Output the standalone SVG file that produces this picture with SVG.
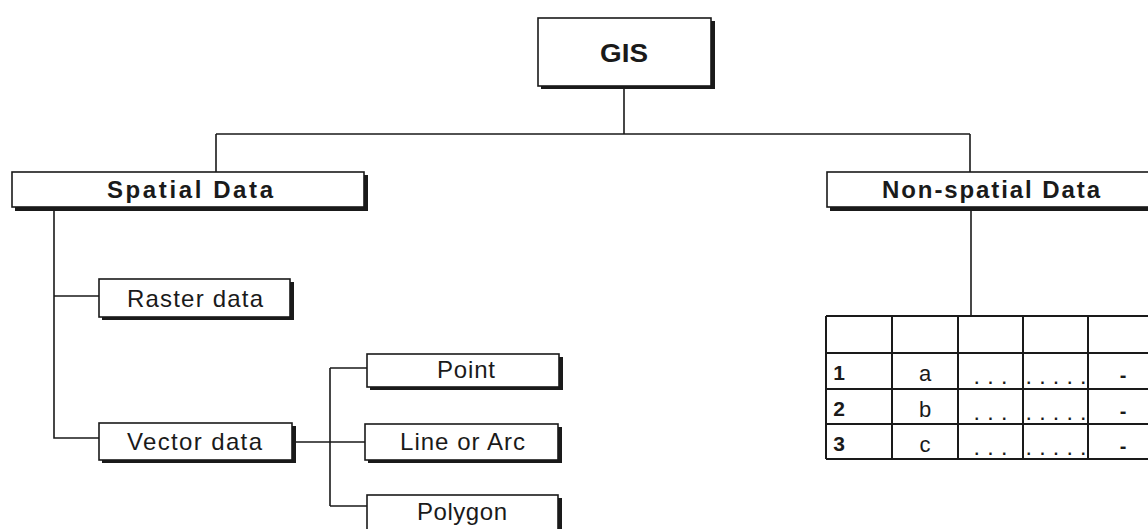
<svg xmlns="http://www.w3.org/2000/svg" width="1148" height="529" viewBox="0 0 1148 529">
<style>
.shadow{fill:#1a1a1a}
.box{fill:#fff;stroke:#1a1a1a;stroke-width:1.6}
.conn{fill:none;stroke:#1a1a1a;stroke-width:1.6}
.grid{fill:none;stroke:#1a1a1a;stroke-width:2}
.t{font-family:"Liberation Sans",Arial,sans-serif;fill:#1a1a1a}
.b{font-weight:bold}
.n{font-weight:normal}
</style>
<rect width="1148" height="529" fill="#fff"/>
<g id="connectors">
<path class="conn" d="M624 88 V134 M216 134 H970 M216 134 V172 M970 134 V172"/>
<path class="conn" d="M54 210 V438 H99 M54 296 H99"/>
<path class="conn" d="M294 442 H365 M330 368 V506 M330 368 H367 M330 506 H367"/>
<path class="conn" d="M971 210 V316"/>
</g>
<g id="gis">
<rect class="shadow" x="541" y="21" width="174" height="68"/>
<rect class="box" x="538" y="18" width="173" height="68"/>
<text class="t b" x="600" y="62" font-size="26" textLength="48" lengthAdjust="spacingAndGlyphs">GIS</text>
</g>
<g id="spatial">
<rect class="shadow" x="15" y="175" width="353" height="36"/>
<rect class="box" x="12" y="172" width="352" height="35"/>
<text class="t b" x="107" y="198" font-size="24" textLength="166" lengthAdjust="spacing">Spatial  Data</text>
</g>
<g id="nonspatial">
<rect class="shadow" x="830" y="175" width="330" height="36"/>
<rect class="box" x="827" y="172" width="330" height="35"/>
<text class="t b" x="882" y="198" font-size="24" textLength="218" lengthAdjust="spacing">Non-spatial  Data</text>
</g>
<g id="raster">
<rect class="shadow" x="102" y="282" width="192" height="38"/>
<rect class="box" x="99" y="279" width="191" height="38"/>
<text class="t n" x="127" y="307" font-size="24" textLength="136" lengthAdjust="spacing">Raster data</text>
</g>
<g id="vector">
<rect class="shadow" x="102" y="426" width="194" height="37"/>
<rect class="box" x="99" y="423" width="193" height="37"/>
<text class="t n" x="127" y="450" font-size="24" textLength="135" lengthAdjust="spacing">Vector data</text>
</g>
<g id="point">
<rect class="shadow" x="370" y="357" width="193" height="33"/>
<rect class="box" x="367" y="354" width="192" height="33"/>
<text class="t n" x="437" y="378" font-size="24" textLength="58" lengthAdjust="spacing">Point</text>
</g>
<g id="line">
<rect class="shadow" x="368" y="427" width="194" height="36"/>
<rect class="box" x="365" y="424" width="193" height="36"/>
<text class="t n" x="400" y="450" font-size="24" textLength="125" lengthAdjust="spacing">Line or Arc</text>
</g>
<g id="polygon">
<rect class="shadow" x="370" y="498" width="192" height="40"/>
<rect class="box" x="367" y="495" width="191" height="40"/>
<text class="t n" x="417" y="520" font-size="24" textLength="90" lengthAdjust="spacing">Polygon</text>
</g>
<g id="table">
<path class="grid" d="M826 316 H1150 M826 353 H1150 M826 389 H1150 M826 424 H1150 M826 459 H1150 M826 316 V459 M892 316 V459 M958 316 V459 M1023 316 V459 M1088 316 V459"/>
<g class="t b" font-size="21" text-anchor="middle">
<text x="839" y="380">1</text>
<text x="839" y="416">2</text>
<text x="839" y="451">3</text>
</g>
<g class="t n" font-size="22" text-anchor="middle">
<text x="925" y="381">a</text>
<text x="925" y="417">b</text>
<text x="925" y="452">c</text>
</g>
<g class="t b" font-size="16">
<text x="974.5" y="384" textLength="32" lengthAdjust="spacing">...</text>
<text x="1026.5" y="384" textLength="59" lengthAdjust="spacing">.....</text>
<text x="974.5" y="420" textLength="32" lengthAdjust="spacing">...</text>
<text x="1026.5" y="420" textLength="59" lengthAdjust="spacing">.....</text>
<text x="974.5" y="455" textLength="32" lengthAdjust="spacing">...</text>
<text x="1026.5" y="455" textLength="59" lengthAdjust="spacing">.....</text>
</g>
<g class="t b" font-size="20" text-anchor="middle">
<text x="1123" y="382">-</text>
<text x="1123" y="418">-</text>
<text x="1123" y="453">-</text>
</g>
</g>
</svg>
